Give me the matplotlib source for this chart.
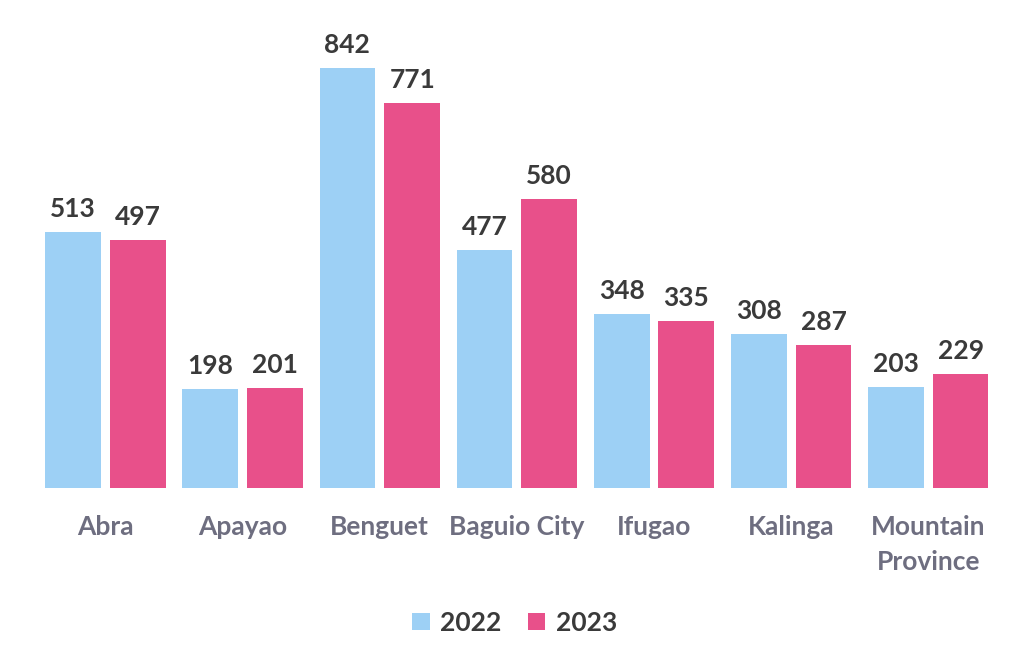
import numpy as np
import matplotlib.pyplot as plt

# Values
provinces = ['Abra', 'Apayao', 'Benguet', 'Baguio City', 'Ifugao', 'Kalinga', 'Mountain\nProvince']
y2022 = [513, 198, 842, 477, 348, 308, 203]
y2023 = [497, 201, 771, 580, 335, 287, 229]

blue = '#9DD0F5'
pink = '#E8508A'
label_gray = '#6E6E80'
value_dark = '#3A3A3A'

plt.rcParams['font.family'] = ['Lato', 'DejaVu Sans']

fig = plt.figure(figsize=(10.13, 6.61), dpi=100)
ax = fig.add_axes([0.0365, 0.2617, 0.9475, 0.6793])

x = np.arange(len(provinces))
w = 0.407
off = 0.236
b1 = ax.bar(x - off, y2022, w, color=blue, label='2022')
b2 = ax.bar(x + off, y2023, w, color=pink, label='2023')

for bars in (b1, b2):
    for r in bars:
        ax.text(r.get_x() + r.get_width() / 2, r.get_height() + 22, str(int(r.get_height())),
                ha='center', va='bottom', fontsize=19, fontweight='bold', color=value_dark)

ax.set_xlim(-0.5, len(provinces) - 0.5)
ax.set_ylim(0, 900)
ax.set_xticks(x)
ax.set_xticklabels(provinces, fontsize=19, fontweight='bold', color=label_gray, linespacing=1.55)
ax.tick_params(axis='x', length=0, pad=19.5)
ax.set_yticks([])
for s in ax.spines.values():
    s.set_visible(False)

leg = fig.legend(loc='center', bbox_to_anchor=(0.508, 0.058), ncol=2, frameon=False,
                 handlelength=0.65, handleheight=0.65, handletextpad=0.4, columnspacing=1.0,
                 prop={'size': 19, 'weight': 'bold'})
for t in leg.get_texts():
    t.set_color(value_dark)

fig.savefig('out.png', dpi=100, facecolor='white')
